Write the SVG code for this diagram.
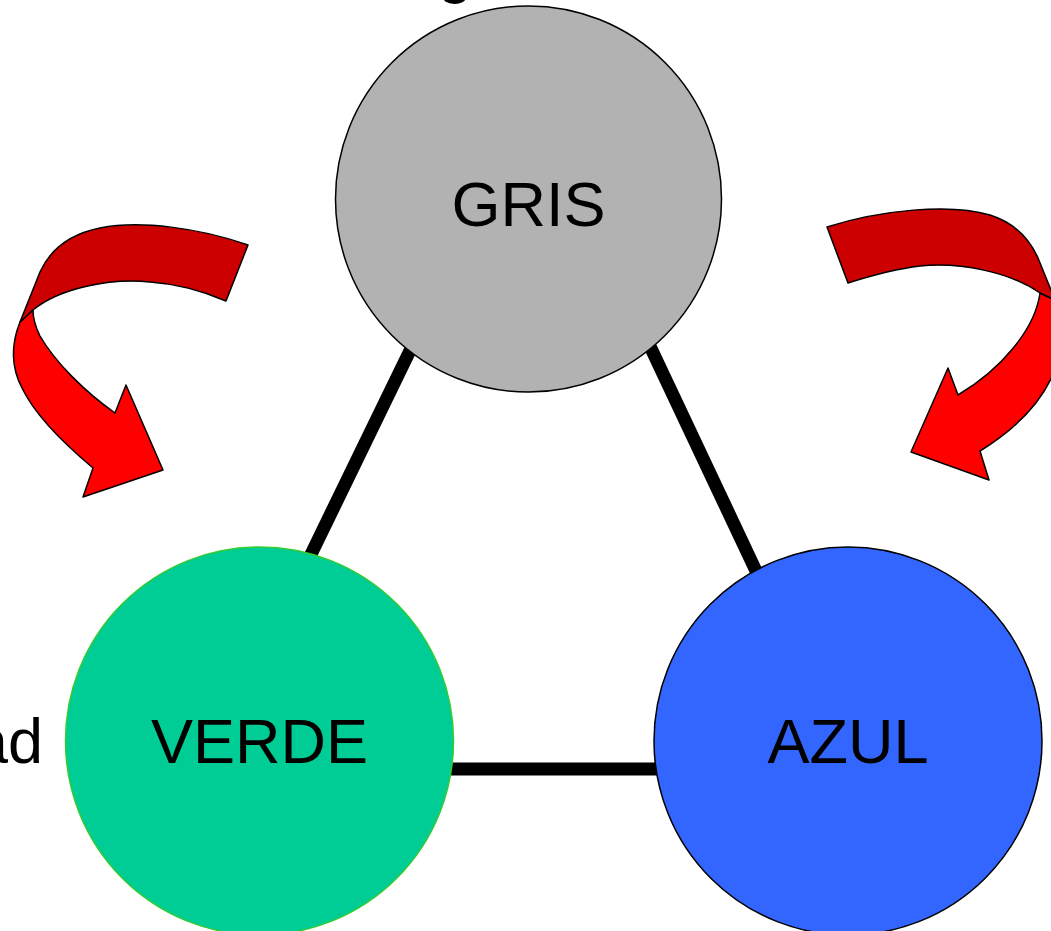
<svg xmlns="http://www.w3.org/2000/svg" width="1051" height="931" viewBox="0 0 1051 931">
<style>
.lbl{font-family:"Liberation Sans",Arial,sans-serif;font-size:63px;fill:#000;text-anchor:middle}
.edge{stroke:#000;stroke-width:13;fill:none}
.dark{fill:#cc0000;stroke:#000;stroke-width:1.5;stroke-linejoin:round}
.bright{fill:#ff0000;stroke:#000;stroke-width:1.5;stroke-linejoin:round}
</style>
<rect width="1051" height="931" fill="#fff"/>
<text class="lbl" x="455" y="-9">g</text>
<text class="lbl" x="43" y="763" style="text-anchor:end">ad</text>
<g id="connectors">
<line class="edge" x1="420" y1="330" x2="300" y2="577"/>
<line class="edge" x1="640" y1="325" x2="765" y2="590"/>
<line class="edge" x1="440" y1="769" x2="670" y2="769"/>
</g>
<g id="arrow-left">
<path class="bright" d="M20,322 C12,342 10,365 22,388 C35,415 62,442 93,468 L83,497 L163,470 L126,385 L115,413 C85,392 55,362 40,336 C35,326 33,318 33,310 Z"/>
<path class="dark" d="M248,245 C200,228 140,220 100,228 C70,234 50,250 40,272 L20,322 L33,310 C60,288 110,278 150,282 C180,284 205,292 226,301 Z"/>
</g>
<g id="arrow-right">
<path class="bright" d="M1040,293 C1035,330 1000,370 958,395 L948,368 L911,452 L989,480 L980,451 C1030,420 1062,380 1062,330 L1055,300 Z"/>
<path class="dark" d="M827,227 C880,210 950,203 990,215 C1015,223 1030,240 1038,258 L1055,300 L1040,293 C1010,272 960,262 920,266 C895,269 870,276 848,283 Z"/>
</g>
<g id="node-gris">
<circle cx="528.5" cy="199" r="193" fill="#b2b2b2" stroke="#000" stroke-width="1.5"/>
<text class="lbl" x="528.5" y="226">GRIS</text>
</g>
<g id="node-verde">
<circle cx="259.5" cy="741" r="194" fill="#00cc96" stroke="#33cc33" stroke-width="1.5"/>
<text class="lbl" x="259.5" y="763">VERDE</text>
</g>
<g id="node-azul">
<circle cx="848" cy="741" r="194" fill="#3366ff" stroke="#000" stroke-width="1.5"/>
<text class="lbl" x="848" y="763">AZUL</text>
</g>
</svg>
